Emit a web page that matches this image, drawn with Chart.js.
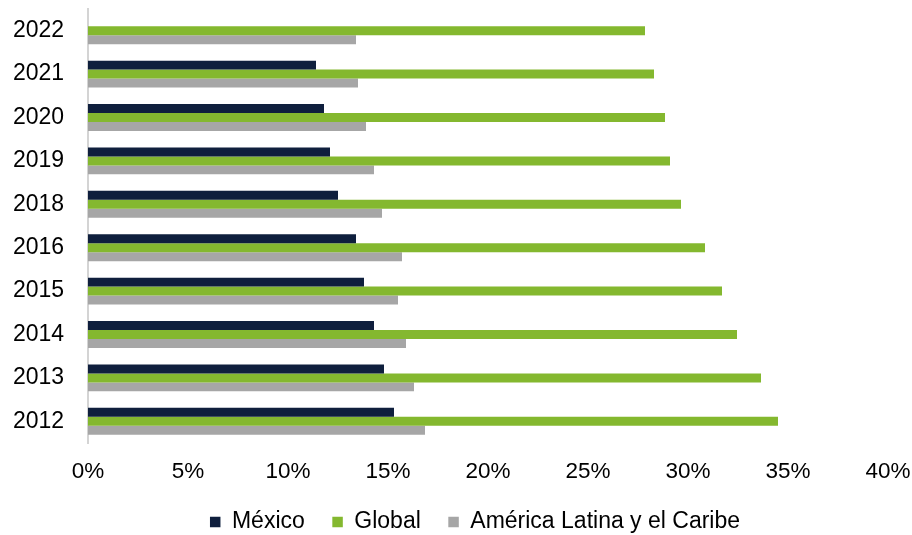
<!DOCTYPE html>
<html>
<head>
<meta charset="utf-8">
<script src="https://cdn.jsdelivr.net/npm/chart.js@4"></script>
<style>
  html, body { margin: 0; padding: 0; background: #ffffff; }
  .chart-box { width: 912px; height: 535px; position: relative; }
</style>
</head>
<body>
<div class="chart-box"><canvas class="chart1"></canvas></div>
<script>
const years = ['2022', '2021', '2020', '2019', '2018', '2016', '2015', '2014', '2013', '2012'];
const mexico = [null, 11.4, 11.8, 12.1, 12.5, 13.4, 13.8, 14.3, 14.8, 15.3];
const globalShare = [27.85, 28.3, 28.85, 29.1, 29.65, 30.85, 31.7, 32.45, 33.65, 34.5];
const latam = [13.4, 13.5, 13.9, 14.3, 14.7, 15.7, 15.5, 15.9, 16.3, 16.85];
const xTicks = [0, 5, 10, 15, 20, 25, 30, 35, 40];

const chart1 = document.querySelector('.chart1');
const fontFamily = '"Liberation Sans", Arial, sans-serif';

new Chart(chart1, {
  type: 'bar',
  data: {
    labels: years,
    datasets: [
      {
        label: 'México',
        data: mexico,
        backgroundColor: '#0f1f3d'
      },
      {
        label: 'Global',
        data: globalShare,
        backgroundColor: '#84b82f'
      },
      {
        label: 'América Latina y el Caribe',
        data: latam,
        backgroundColor: '#a6a6a6'
      }
    ]
  },
  options: {
    indexAxis: 'y',
    responsive: true,
    maintainAspectRatio: false,
    animation: false,
    // left padding keeps the legend centred like the reference
    layout: { padding: { left: 62, top: 9, right: 24, bottom: 0 } },
    datasets: {
      bar: { categoryPercentage: 0.62, barPercentage: 1.0 }
    },
    scales: {
      x: {
        min: 0,
        max: 40,
        afterBuildTicks: axis => {
          axis.ticks = xTicks.map(v => ({ value: v }));
        },
        afterFit: axis => {
          axis.paddingLeft = 0;
          axis.paddingRight = 0;
          axis.height = 40;
        },
        ticks: {
          color: '#000000',
          padding: 15.5,
          maxRotation: 0,
          font: { family: fontFamily, size: 22.5 },
          callback: v => v + '%'
        },
        grid: { display: false, drawTicks: false },
        border: { display: false }
      },
      y: {
        afterFit: axis => {
          axis.width = 26;
          axis.paddingTop = 0;
          axis.paddingBottom = 0;
        },
        ticks: {
          color: '#000000',
          // mirrored labels are not clipped to the narrow axis box
          mirror: true,
          padding: -75,
          font: { family: fontFamily, size: 23 }
        },
        grid: { display: false, drawTicks: false },
        border: { display: true, color: '#d4d4d4', width: 2 }
      }
    },
    plugins: {
      legend: {
        position: 'bottom',
        maxHeight: 52,
        labels: {
          color: '#000000',
          boxWidth: 10.5,
          boxHeight: 10.5,
          padding: 27.5,
          font: { family: fontFamily, size: 23 }
        }
      },
      tooltip: { enabled: false }
    }
  }
});
</script>
</body>
</html>
